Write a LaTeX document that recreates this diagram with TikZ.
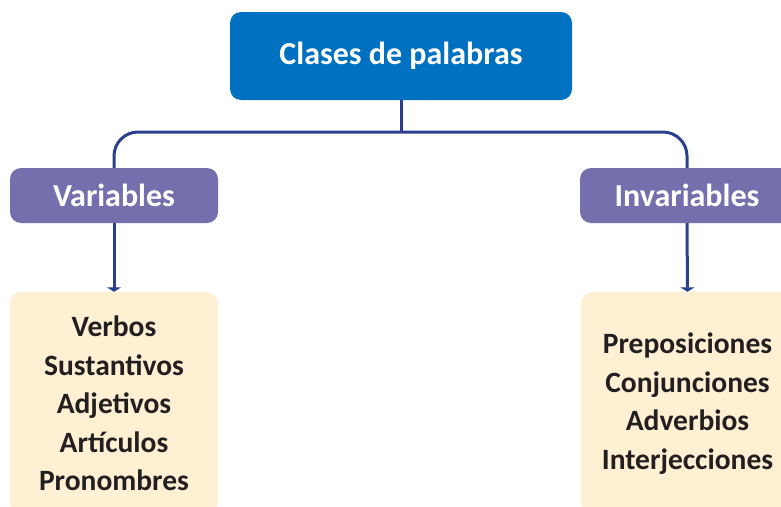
\documentclass[tikz,border=0pt]{standalone}
\usepackage{fontspec}
\setmainfont{Carlito}
\usetikzlibrary{arrows.meta}
\definecolor{topblue}{HTML}{0070C0}
\definecolor{purp}{HTML}{7570AD}
\definecolor{cream}{HTML}{FFF0D4}
\definecolor{linec}{HTML}{2B3F8F}
\definecolor{txtdark}{HTML}{231F20}
\begin{document}
\begin{tikzpicture}[x=1pt,y=-1pt,
  topbox/.style={fill=topblue, rounded corners=11pt, text=white, font=\fontsize{32}{38}\selectfont\bfseries, inner sep=0pt},
  midbox/.style={fill=purp, rounded corners=11pt, text=white, font=\fontsize{32}{38}\selectfont\bfseries, inner sep=0pt},
  listbox/.style={fill=cream, rounded corners=12pt, text=txtdark, align=center, font=\fontsize{29.5}{38.5}\selectfont\bfseries, inner sep=0pt},
  conn/.style={draw=linec, line width=3pt},
  arr/.style={conn, -{Triangle[width=14pt,length=4.5pt]}}
]
\useasboundingbox (0,0) rectangle (781,506);
\clip (0,0) rectangle (781,506);
\node[topbox, minimum width=342pt, minimum height=88pt] (top) at (401,56) {Clases de palabras};
\node[midbox, minimum width=208pt, minimum height=55pt] (var) at (114,195.5) {Variables};
\node[midbox, minimum width=214pt, minimum height=55pt] (inv) at (687,195.5) {Invariables};
\node[listbox, minimum width=208pt, minimum height=223pt] (lv) at (114,403.5) {Verbos\\Sustantivos\\Adjetivos\\Artículos\\Pronombres};
\node[listbox, minimum width=213pt, minimum height=223pt] (rv) at (687.5,403.5) {Preposiciones\\Conjunciones\\Adverbios\\Interjecciones};
\coordinate (j) at (401,132);
\draw[conn] (top.south) -- (j);
\draw[conn, rounded corners=24pt] (var.north) |- (j) -| (inv.north);
\draw[arr] (var.south) -- (lv.north);
\draw[arr] (inv.south) -- (rv.north);
\end{tikzpicture}
\end{document}
